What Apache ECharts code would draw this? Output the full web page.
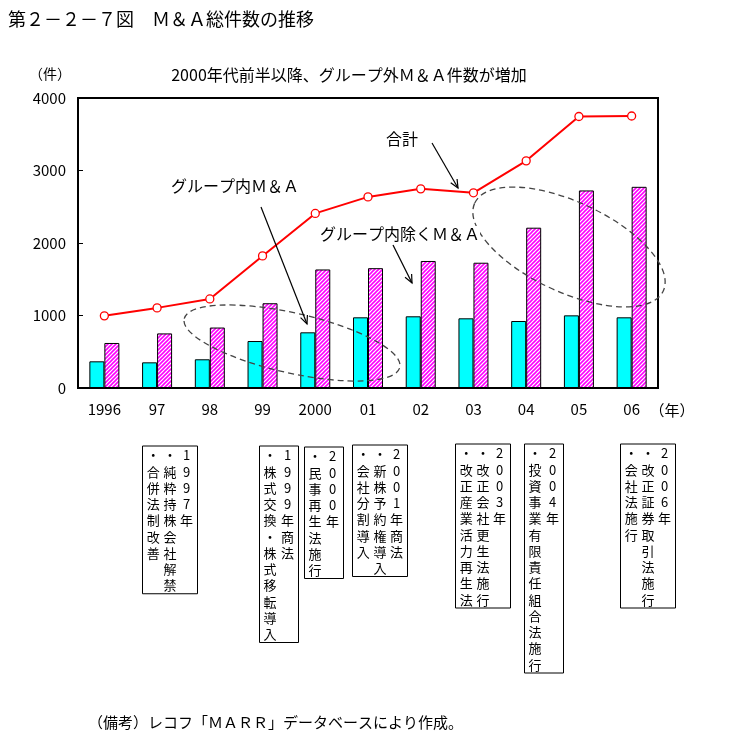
<!DOCTYPE html>
<html>
<head>
<meta charset="utf-8">
<script src="https://cdn.jsdelivr.net/npm/echarts@6/dist/echarts.min.js"></script>
<style>
html,body{margin:0;padding:0;background:#fff;}
#chart{width:734px;height:740px;}
</style>
</head>
<body>
<div id="chart"></div>
<script>
// ---- data ----
const categories = ['1996','97','98','99','2000','01','02','03','04','05','06'];
const groupInternal = [368,354,396,648,768,975,989,961,924,1002,975];      // グループ内M&A
const groupExcluded = [621,753,834,1169,1635,1653,1752,1728,2211,2725,2775]; // グループ内除くM&A
const totalCount = [995,1105,1228,1822,2408,2636,2747,2692,3133,3745,3752];  // 合計
const yMin = 0, yMax = 4000, yStep = 1000;

// ---- texts ----
const titleText = '第２－２－７図　Ｍ＆Ａ総件数の推移';
const subtitleText = '2000年代前半以降、グループ外Ｍ＆Ａ件数が増加';
const yUnitText = '（件）';
const xUnitText = '（年）';
const noteText = '（備考）レコフ「ＭＡＲＲ」データベースにより作成。';
const labelInternal = 'グループ内Ｍ＆Ａ';
const labelExcluded = 'グループ内除くＭ＆Ａ';
const labelTotal = '合計';
// vertical note boxes: columns listed left -> right
const boxColumns = [
  ['・合併法制改善','・純粋持株会社解禁','1997年'],
  ['・株式交換・株式移転導入','1999年商法'],
  ['・民事再生法施行','2000年'],
  ['・会社分割導入','・新株予約権導入','2001年商法'],
  ['・改正産業活力再生法','・改正会社更生法施行','2003年'],
  ['・投資事業有限責任組合法施行','2004年'],
  ['・会社法施行','・改正証券取引法施行','2006年']
];

// ---- layout (pixels) ----
const boxLayout = [
  {left:142.5, top:446, width:55},
  {left:259.5, top:446, width:39},
  {left:304.5, top:447, width:39},
  {left:352.5, top:445, width:55},
  {left:455.5, top:444, width:55},
  {left:524.5, top:444, width:39},
  {left:620.5, top:444, width:55}
];
const FONT = "'Noto Sans CJK JP', sans-serif";

function hatchPattern(){
  const c = document.createElement('canvas');
  c.width = 4; c.height = 4;
  const g = c.getContext('2d');
  g.fillStyle = '#ffffff'; g.fillRect(0,0,4,4);
  g.strokeStyle = '#ff00ff'; g.lineWidth = 1.6;
  g.beginPath();
  g.moveTo(-1,5); g.lineTo(5,-1);
  g.moveTo(-1,1); g.lineTo(1,-1);
  g.moveTo(3,5); g.lineTo(5,3);
  g.stroke();
  return c;
}

function arrow(x1,y1,x2,y2){
  const ang = Math.atan2(y2-y1, x2-x1);
  const L = 9, a = 0.42;
  const p1 = [x2 - L*Math.cos(ang-a), y2 - L*Math.sin(ang-a)];
  const p2 = [x2 - L*Math.cos(ang+a), y2 - L*Math.sin(ang+a)];
  return [
    {type:'line', shape:{x1,y1,x2,y2}, style:{stroke:'#000', lineWidth:1.2}, z:50},
    {type:'polyline', shape:{points:[p1,[x2,y2],p2]}, style:{stroke:'#000', fill:null, lineWidth:1.2}, z:50}
  ];
}

function ellipse(cx,cy,rx,ry,deg){
  return {type:'ellipse', x:cx, y:cy, rotation:deg*Math.PI/180,
    shape:{cx:0, cy:0, rx, ry},
    style:{fill:null, stroke:'#444', lineWidth:1.3, lineDash:[6,4]}, z:40};
}

function text(str, x, y, size, align, extra){
  return Object.assign({type:'text', x, y, z:60,
    style:Object.assign({text:str, fill:'#000', fontSize:size, fontFamily:FONT,
      textAlign:align||'left', textVerticalAlign:'middle'}, extra||{})});
}

const graphics = [];
graphics.push(text(titleText, 8, 19, 18, 'left'));
graphics.push(text(subtitleText, 349, 75, 16, 'center'));
graphics.push(text(yUnitText, 50, 74, 14, 'center'));
graphics.push(text(xUnitText, 672, 410, 15, 'center'));
graphics.push(text(noteText, 88, 722, 15, 'left'));
graphics.push(text(labelInternal, 235, 186, 16, 'center', {backgroundColor:'#fff'}));
graphics.push(text(labelExcluded, 400, 234, 16, 'center', {backgroundColor:'#fff'}));
graphics.push(text(labelTotal, 402, 139, 16, 'center', {backgroundColor:'#fff'}));
graphics.push(...arrow(261,207,307,324));
graphics.push(...arrow(393,245,412,283));
graphics.push(...arrow(432,143,458,188));
graphics.push(ellipse(292,343,110.5,30,-12.7));
graphics.push(ellipse(569,247,104,45,-25));

const LH = 16.25;
boxColumns.forEach((cols, i) => {
  const b = boxLayout[i];
  const rows = Math.max(...cols.map(c => c.length));
  graphics.push({type:'rect', shape:{x:b.left, y:b.top, width:b.width, height:rows*LH+1.5},
    style:{fill:'#fff', stroke:'#000', lineWidth:1}, z:30});
  const step = cols.length === 3 ? 16.7 : 17.5;
  const first = cols.length === 3 ? 10.7 : 10.5;
  cols.forEach((col, j) => {
    graphics.push({type:'text', x:b.left + first + j*step, y:b.top + 1.2, z:31,
      style:{text:col.split('').join('\n'), fill:'#000', fontSize:13, fontFamily:FONT,
        textAlign:'center', textVerticalAlign:'top', lineHeight:LH}});
  });
});

const chart = echarts.init(document.getElementById('chart'), null, {renderer:'canvas'});
chart.setOption({
  animation:false,
  backgroundColor:'#fff',
  grid:{left:78, top:98, width:580, height:290, show:true, borderColor:'#000', borderWidth:2, backgroundColor:'transparent'},
  xAxis:{type:'category', data:categories, boundaryGap:true,
    axisLine:{lineStyle:{color:'#000', width:2}}, axisTick:{show:false},
    axisLabel:{color:'#000', fontSize:15, fontFamily:FONT, margin:14}},
  yAxis:{type:'value', min:yMin, max:yMax, interval:yStep,
    axisLine:{show:true, lineStyle:{color:'#000', width:2}},
    axisTick:{show:true, inside:true, length:5, lineStyle:{color:'#000', width:1}},
    splitLine:{show:false},
    axisLabel:{color:'#000', fontSize:15, fontFamily:FONT, margin:12, formatter:v => String(v)}},
  series:[
    {name:'グループ内M&A', type:'bar', data:groupInternal, barWidth:15, barGap:'0%',
      itemStyle:{color:'#00ffff', borderColor:'#000', borderWidth:1}},
    {name:'グループ内除くM&A', type:'bar', data:groupExcluded, barWidth:15, barGap:'0%',
      itemStyle:{color:{image:hatchPattern(), repeat:'repeat'}, borderColor:'#000', borderWidth:1}},
    {name:'合計', type:'line', data:totalCount, z:10,
      lineStyle:{color:'#ff0000', width:2},
      symbol:'circle', symbolSize:8,
      itemStyle:{color:'#fff', borderColor:'#ff0000', borderWidth:1.3}}
  ],
  graphic:graphics
});
</script>
</body>
</html>
